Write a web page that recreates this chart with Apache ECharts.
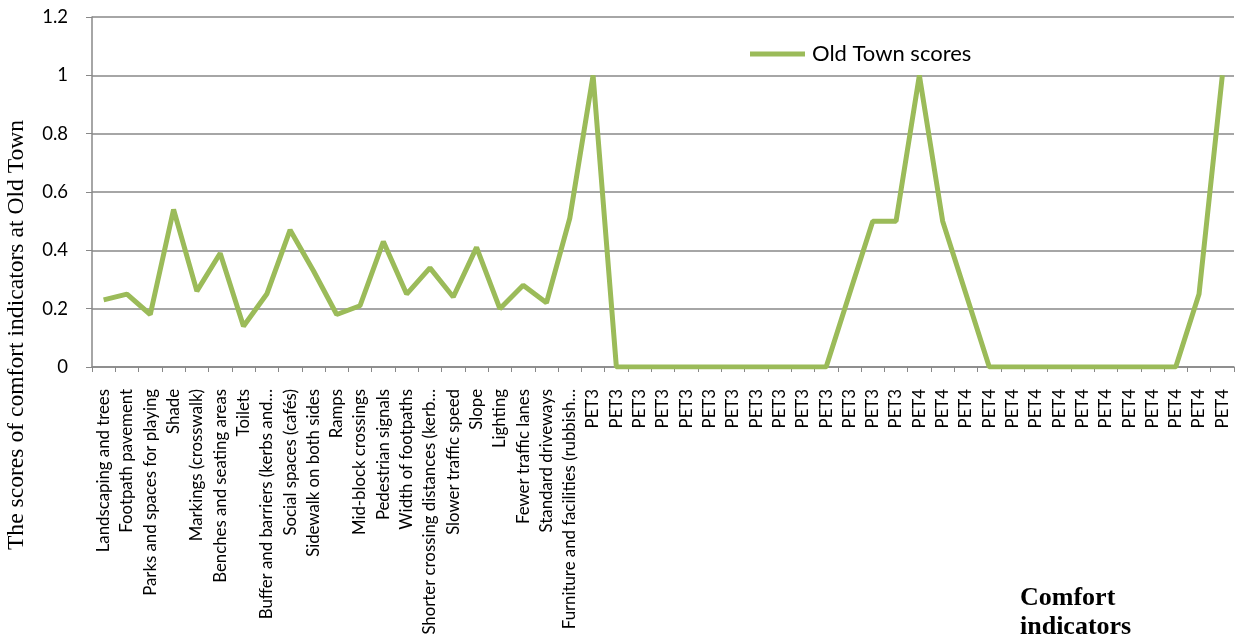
<!DOCTYPE html>
<html><head><meta charset="utf-8">
<script src="https://cdn.jsdelivr.net/npm/echarts@6/dist/echarts.min.js"></script>
<style>html,body{margin:0;padding:0;background:#fff}#c{width:1236px;height:642px}</style>
</head><body><div id="c"></div>
<script>
var namedCategories = ["Landscaping and trees","Footpath pavement","Parks and spaces for playing","Shade","Markings (crosswalk)","Benches and seating areas","Toilets","Buffer and barriers (kerbs and…","Social spaces (cafés)","Sidewalk on both sides","Ramps","Mid-block crossings","Pedestrian signals","Width of footpaths","Shorter crossing distances (kerb…","Slower traffic speed","Slope","Lighting","Fewer traffic lanes","Standard driveways","Furniture and facilities (rubbish…"];
var pet3Categories = ["PET3","PET3","PET3","PET3","PET3","PET3","PET3","PET3","PET3","PET3","PET3","PET3","PET3","PET3"];
var pet4Categories = ["PET4","PET4","PET4","PET4","PET4","PET4","PET4","PET4","PET4","PET4","PET4","PET4","PET4","PET4"];
var namedValues = [0.23,0.25,0.18,0.54,0.26,0.39,0.14,0.25,0.47,0.33,0.18,0.21,0.43,0.25,0.34,0.24,0.41,0.20,0.28,0.22,0.51];
var pet3Values = [1,0,0,0,0,0,0,0,0,0,0,0.25,0.5,0.5];
var pet4Values = [1,0.5,0.25,0,0,0,0,0,0,0,0,0,0.25,1];
var yTicks = [0,0.2,0.4,0.6,0.8,1,1.2];
var seriesName = "Old Town scores";
var yTitle = "The scores of comfort indicators at Old Town";
var xTitle = "Comfort\nindicators";

var categories = namedCategories.concat(pet3Categories, pet4Categories);
var values = namedValues.concat(pet3Values, pet4Values);

var chart = echarts.init(document.getElementById('c'));
chart.setOption({
  animation: false,
  grid: {left: 92, right: 2, top: 17, bottom: 275, containLabel: false},
  legend: {
    data: [seriesName], left: 745, top: 38, icon: 'rect', itemWidth: 55, itemHeight: 5, itemGap: 8,
    textStyle: {fontFamily: 'Lato', fontSize: 22, color: '#000', padding: [0,0,0,2]}
  },
  xAxis: {
    type: 'category', data: categories, boundaryGap: true,
    axisLine: {lineStyle: {color: '#888', width: 1.5}},
    axisTick: {show: true, length: 5, lineStyle: {color: '#888'}, interval: 0},
    axisLabel: {interval: 0, rotate: 90, fontFamily: 'Lato', fontSize: 16.8, color: '#000', margin: 22}
  },
  yAxis: {
    type: 'value', min: 0, max: 1.2, interval: 0.2,
    axisLine: {show: true, lineStyle: {color: '#888', width: 1.5}},
    axisTick: {show: true, length: 6, lineStyle: {color: '#888'}},
    axisLabel: {fontFamily: 'Lato', fontSize: 18.5, color: '#000', margin: 24,
      formatter: function (v) { var i = yTicks.indexOf(Math.round(v*10)/10); return i >= 0 ? String(yTicks[i]) : ''; }},
    splitLine: {lineStyle: {color: '#888', width: 1.5}}
  },
  series: [{
    name: seriesName, type: 'line', data: values, symbol: 'none',
    lineStyle: {color: '#9BBB59', width: 5}, itemStyle: {color: '#9BBB59'}
  }],
  graphic: [
    {type: 'text', x: 17, y: 335, rotation: Math.PI/2,
      style: {text: yTitle, fontFamily: 'Liberation Serif', fontSize: 23.6, fill: '#000', textAlign: 'center', textVerticalAlign: 'middle'}},
    {type: 'text', left: 1020, top: 584,
      style: {text: xTitle, fontFamily: 'Liberation Serif', fontWeight: 'bold', fontSize: 26, lineHeight: 29, fill: '#000'}}
  ]
});
</script></body></html>
